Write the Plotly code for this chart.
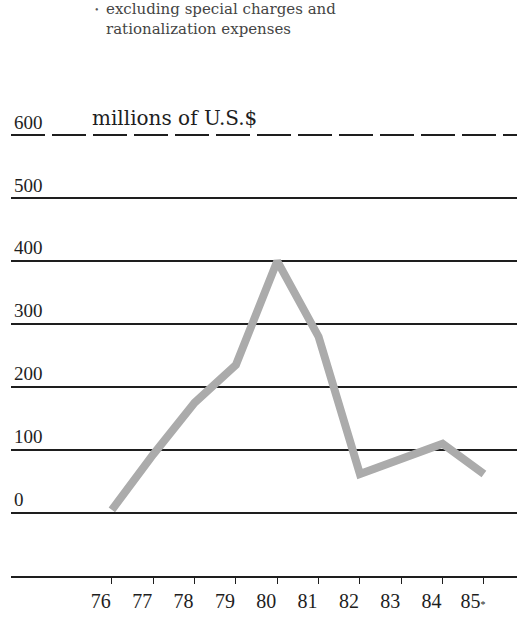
import plotly.graph_objects as go

years = [76, 77, 78, 79, 80, 81, 82, 83, 84, 85]
year_labels = ["76", "77", "78", "79", "80", "81", "82", "83", "84",
               "85<span style='font-size:10px'>*</span>"]
profit = [5, 93, 175, 235, 400, 280, 62, 85, 110, 62]

solid_ticks = [-100, 0, 100, 200, 300, 400, 500]
solid_text = ["", "0", "100", "200", "300", "400", "500"]
top_tick = [600]
top_text = ["600"]

unit_label = "millions of U.S.$"
note = "excluding special charges and<br>rationalization expenses"

serif = "Liberation Serif, Times New Roman, serif"
wide_serif = "DejaVu Serif, serif"
ink = "#1e1e1e"

fig = go.Figure()
fig.add_trace(go.Scatter(
    x=years, y=profit, mode="lines",
    line=dict(color="#ababab", width=8),
    showlegend=False, hoverinfo="skip"))
# invisible trace to activate the overlay axis
fig.add_trace(go.Scatter(x=[years[0]], y=[top_tick[0]], yaxis="y2",
                         mode="markers", marker=dict(opacity=0),
                         showlegend=False, hoverinfo="skip"))

yrange = [-100, 640]
fig.update_layout(
    width=517, height=618,
    margin=dict(l=11, r=0, t=110, b=42),
    paper_bgcolor="white", plot_bgcolor="white",
    font=dict(family=serif, color=ink, size=19),
    xaxis=dict(range=[73.56, 85.8], tickvals=years, ticktext=year_labels,
               showgrid=False, zeroline=False, showline=True,
               linecolor=ink, linewidth=2, ticks="outside", ticklen=6,
               tickwidth=1, tickcolor=ink, ticklabelshift=-11,
               tickfont=dict(family=serif, size=20, color=ink)),
    yaxis=dict(range=yrange, tickvals=solid_ticks, ticktext=solid_text,
               showgrid=True, gridcolor=ink, gridwidth=2, zeroline=False,
               showline=False, ticks="", ticklabelposition="inside top",
               tickfont=dict(family=serif, size=19, color=ink)),
    yaxis2=dict(range=yrange, overlaying="y", side="left",
                tickvals=top_tick, ticktext=top_text,
                showgrid=True, gridcolor=ink, gridwidth=2,
                griddash="34px,7px",
                zeroline=False, showline=False, ticks="",
                ticklabelposition="inside top",
                tickfont=dict(family=serif, size=19, color=ink)),
)

fig.add_annotation(x=0.156, xref="paper", y=top_tick[0], yref="y2",
                   text=unit_label, showarrow=False, xanchor="left",
                   yanchor="bottom", yshift=3,
                   font=dict(family=wide_serif, size=20, color=ink))
fig.add_annotation(x=0.162, xref="paper", y=1.231, yref="paper",
                   text="•", showarrow=False, xanchor="left", yanchor="top",
                   font=dict(family=serif, size=10, color="#555"))
fig.add_annotation(x=0.184, xref="paper", y=1.24, yref="paper",
                   text=note, showarrow=False, xanchor="left", yanchor="top",
                   align="left",
                   font=dict(family=wide_serif, size=15, color="#444"))

fig.write_html("out.html")
